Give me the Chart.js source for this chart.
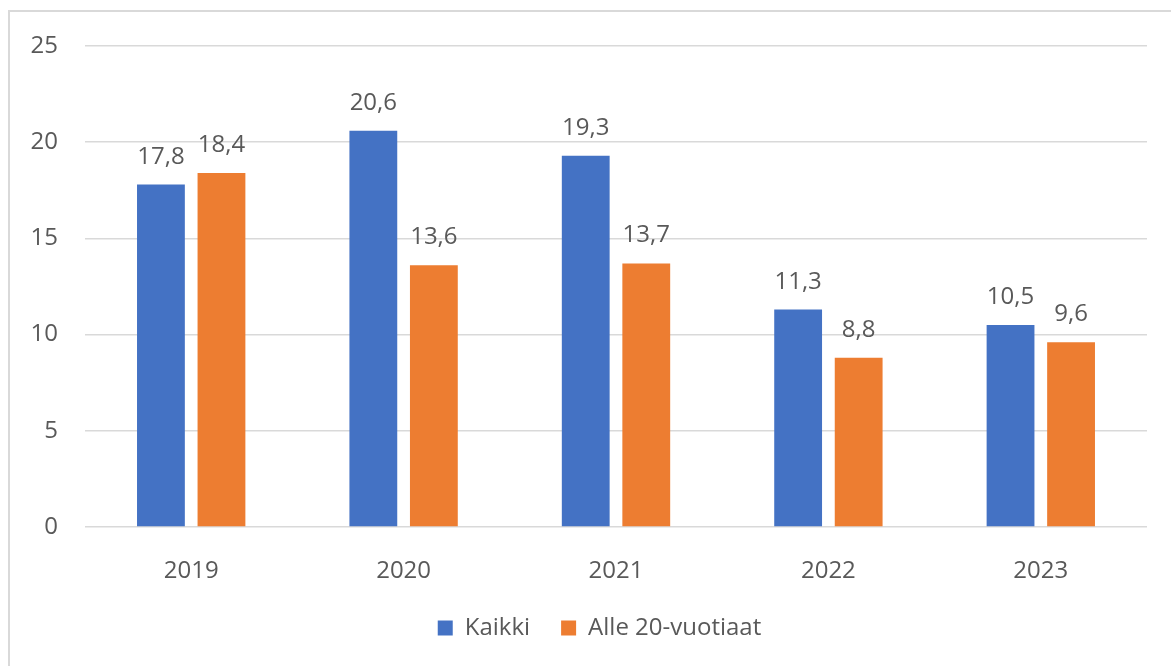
<!DOCTYPE html>
<html>
<head>
<meta charset="utf-8">
<script src="https://cdn.jsdelivr.net/npm/chart.js@4/dist/chart.umd.min.js"></script>
<style>
  html, body { margin: 0; padding: 0; background: #fff; }
  #frame { position: absolute; left: 8px; top: 10px; width: 1200px; height: 700px;
           border-left: 2px solid #d9d9d9; border-top: 2px solid #d9d9d9; }
  #wrap { position: absolute; left: 0; top: 0; width: 1171px; height: 666px; }
</style>
</head>
<body>
<div id="frame"></div>
<div id="wrap"><canvas id="c" width="1171" height="666"></canvas></div>
<script>
const categories = ['2019', '2020', '2021', '2022', '2023'];
const kaikki = [17.8, 20.6, 19.3, 11.3, 10.5];
const alle20 = [18.4, 13.6, 13.7, 8.8, 9.6];
const seriesNames = ['Kaikki', 'Alle 20-vuotiaat'];
const yTicks = [0, 5, 10, 15, 20, 25];

const FONT = "'Open Sans', 'Noto Sans', sans-serif";
const TEXT = '#595959';

const valueLabels = {
  id: 'valueLabels',
  afterLayout(chart) {
    if (chart.legend) { chart.legend.left += 21; chart.legend.right += 21; }
  },
  afterDatasetsDraw(chart) {
    const ctx = chart.ctx;
    ctx.save();
    ctx.font = '24px ' + FONT;
    ctx.fillStyle = TEXT;
    ctx.textAlign = 'center';
    ctx.textBaseline = 'alphabetic';
    chart.data.datasets.forEach((ds, i) => {
      chart.getDatasetMeta(i).data.forEach((bar, j) => {
        const txt = ds.data[j].toFixed(1).replace('.', ',');
        ctx.fillText(txt, bar.x, bar.y - 21);
      });
    });
    ctx.restore();
  }
};

new Chart(document.getElementById('c'), {
  type: 'bar',
  data: {
    labels: categories,
    datasets: [
      { label: seriesNames[0], data: kaikki, backgroundColor: '#4472C4',
        categoryPercentage: 0.57, barPercentage: 0.79 },
      { label: seriesNames[1], data: alle20, backgroundColor: '#ED7D31',
        categoryPercentage: 0.57, barPercentage: 0.79 }
    ]
  },
  options: {
    responsive: false,
    animation: false,
    layout: { padding: { top: 46, left: 10, right: 24, bottom: 16 } },
    plugins: {
      tooltip: { enabled: false },
      legend: {
        position: 'bottom',
        labels: {
          boxWidth: 15, boxHeight: 15, padding: 31,
          color: TEXT, font: { family: FONT, size: 24 }
        }
      }
    },
    scales: {
      x: {
        grid: { display: false },
        border: { display: false },
        ticks: { color: TEXT, font: { family: FONT, size: 24 }, padding: 22 },
        afterFit(s) { s.height = 58; }
      },
      y: {
        min: 0, max: 25,
        afterBuildTicks(s) { s.ticks = yTicks.map(v => ({ value: v })); },
        grid: { color: '#d9d9d9', lineWidth: 1.6, drawTicks: false },
        border: { display: false },
        ticks: { color: TEXT, font: { family: FONT, size: 24 }, padding: 27 },
        afterFit(s) { s.width = 75; }
      }
    }
  },
  plugins: [valueLabels]
});
</script>
</body>
</html>
